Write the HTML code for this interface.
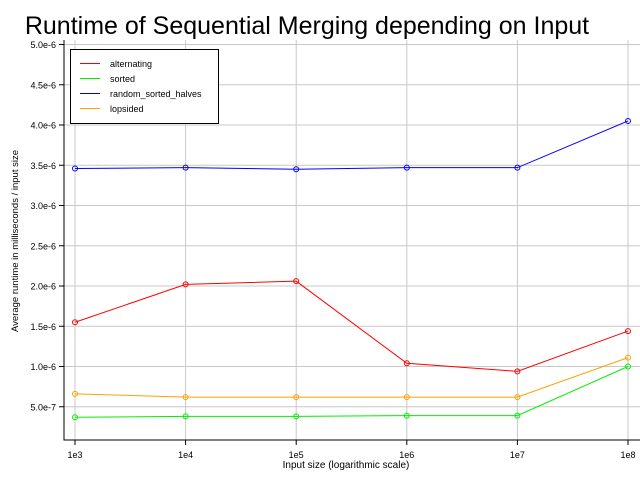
<!DOCTYPE html>
<html><head><meta charset="utf-8"><style>
body{margin:0;background:#fff;}
svg{display:block;font-family:"Liberation Sans",Arial,sans-serif;}
</style></head><body>
<svg id="chart" width="640" height="480">
<text x="307" y="34" text-anchor="middle" font-size="25">Runtime of Sequential Merging depending on Input</text>
<g id="grid"></g>
<g id="axes"></g>
<g id="series"></g>
<text x="346" y="468" text-anchor="middle" font-size="10">Input size (logarithmic scale)</text>
<text transform="translate(18,241) rotate(-90)" text-anchor="middle" font-size="9.5">Average runtime in milliseconds / input size</text>
<g id="legend"></g>
</svg>
<script>
const categories=["1e3","1e4","1e5","1e6","1e7","1e8"];
const yTicks=[0.5e-6,1.0e-6,1.5e-6,2.0e-6,2.5e-6,3.0e-6,3.5e-6,4.0e-6,4.5e-6,5.0e-6];
const yTickLabels=["5.0e-7","1.0e-6","1.5e-6","2.0e-6","2.5e-6","3.0e-6","3.5e-6","4.0e-6","4.5e-6","5.0e-6"];
const alternating=[1.55e-6,2.02e-6,2.06e-6,1.04e-6,0.94e-6,1.44e-6];
const sorted=[0.37e-6,0.38e-6,0.38e-6,0.39e-6,0.39e-6,1.0e-6];
const randomSortedHalves=[3.46e-6,3.47e-6,3.45e-6,3.47e-6,3.47e-6,4.05e-6];
const lopsided=[0.66e-6,0.62e-6,0.62e-6,0.62e-6,0.62e-6,1.11e-6];
const seriesNames=["alternating","sorted","random_sorted_halves","lopsided"];
const seriesColors=["#ff0000","#00ee00","#0000ff","#ffa000"];
const seriesData=[alternating,sorted,randomSortedHalves,lopsided];

const NS="http://www.w3.org/2000/svg";
function xS(i){return 75+i*110.6;}
function yS(v){return 447-v/5e-6*402.5;}
function mk(parent,tag,attrs){const e=document.createElementNS(NS,tag);for(const k in attrs)e.setAttribute(k,attrs[k]);parent.appendChild(e);return e;}
const grid=document.getElementById('grid'),axes=document.getElementById('axes'),ser=document.getElementById('series'),leg=document.getElementById('legend');
categories.forEach((c,i)=>{
  const l=mk(grid,'line',{x1:xS(i),x2:xS(i),y1:40,y2:440,stroke:'#c8c8c8','stroke-width':1});
  
  
  const t=mk(axes,'line',{x1:xS(i),x2:xS(i),y1:440,y2:445,stroke:'#000'});
  
  
  const tx=mk(axes,'text',{x:xS(i),y:458,'text-anchor':'middle','font-size':9});
  tx.textContent=c;
  
  
});
yTicks.forEach((v,i)=>{
  const l=mk(grid,'line',{x1:64,x2:640,y1:yS(v),y2:yS(v),stroke:'#c8c8c8','stroke-width':1});
  
  
  const t=mk(axes,'line',{x1:59,x2:64,y1:yS(v),y2:yS(v),stroke:'#000'});
  
  
  const tx=mk(axes,'text',{x:56,y:yS(v)+3.5,'text-anchor':'end','font-size':9});
  tx.textContent=yTickLabels[i];
  
  
});
const ax=mk(axes,'path',{d:'M64,40 V440 H640',fill:'none',stroke:'#000','stroke-width':1});


seriesData.forEach((d,s)=>{
  const p=mk(ser,'polyline',{points:d.map((v,i)=>xS(i)+','+yS(v)).join(' '),fill:'none',stroke:seriesColors[s],'stroke-width':1});
  
  
  d.forEach((v,i)=>{
    const c=mk(ser,'circle',{cx:xS(i),cy:yS(v),r:2.5,fill:'none',stroke:seriesColors[s],'stroke-width':1});
    
    
  });
});
const box=mk(leg,'rect',{x:70.5,y:49.5,width:148,height:74,fill:'#fff',stroke:'#000'});


seriesNames.forEach((n,i)=>{
  const y=63.5+i*15;
  const l=mk(leg,'line',{x1:80,x2:100,y1:y,y2:y,stroke:seriesColors[i]});
  
  
  const t=mk(leg,'text',{x:110,y:y+3.5,'font-size':9});
  t.textContent=n;
  
  
});
</script>
</body></html>
